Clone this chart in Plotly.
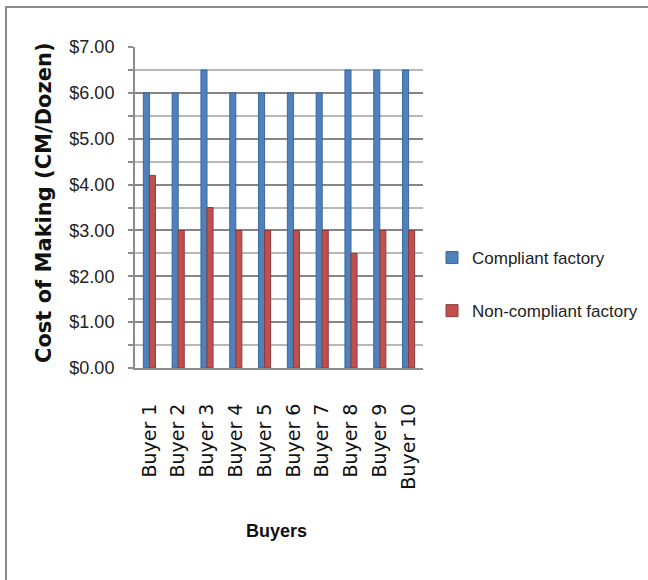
import plotly.graph_objects as go

buyers = ["Buyer 1", "Buyer 2", "Buyer 3", "Buyer 4", "Buyer 5",
          "Buyer 6", "Buyer 7", "Buyer 8", "Buyer 9", "Buyer 10"]
compliant = [6.0, 6.0, 6.5, 6.0, 6.0, 6.0, 6.0, 6.5, 6.5, 6.5]
non_compliant = [4.2, 3.0, 3.5, 3.0, 3.0, 3.0, 3.0, 2.5, 3.0, 3.0]
y_ticks = [0, 1, 2, 3, 4, 5, 6, 7]
y_tick_text = ["$0.00", "$1.00", "$2.00", "$3.00", "$4.00", "$5.00", "$6.00", "$7.00"]

SANS = "Liberation Sans, Arial, sans-serif"

W, H = 648, 580
L, R, T, B = 135, 225, 47, 212
pw, ph = W - L - R, H - T - B


def px(x):
    return (x - L) / pw


def py(y):
    return (H - B - y) / ph


fig = go.Figure()
fig.add_trace(go.Bar(
    x=buyers, y=compliant, name="Compliant factory",
    legendgroup="a",
    marker=dict(color="#4f81bd", line=dict(color="#3a679c", width=1)),
))
fig.add_trace(go.Bar(
    x=buyers, y=non_compliant, name="Non-compliant factory",
    legendgroup="b",
    marker=dict(color="#c0504d", line=dict(color="#8e3a38", width=1)),
))

fig.update_layout(
    width=W, height=H,
    margin=dict(l=L, r=R, t=T, b=B, autoexpand=False),
    paper_bgcolor="white", plot_bgcolor="white",
    barmode="group", bargap=0.58, bargroupgap=0.0,
    showlegend=True,
    legend=dict(
        x=px(432), y=py(240), xanchor="left", yanchor="top",
        font=dict(family=SANS, size=17, color="#222"),
        traceorder="grouped", tracegroupgap=28,
        bgcolor="rgba(0,0,0,0)",
    ),
    xaxis=dict(
        tickangle=-90,
        tickfont=dict(family="DejaVu Sans, Arial, sans-serif", size=19, color="#111"),
        showline=True, linecolor="#8c8c8c", linewidth=2,
        ticks="", ticklabelstandoff=26,
        showgrid=False,
    ),
    yaxis=dict(
        range=[0, 7],
        tickvals=y_ticks, ticktext=y_tick_text,
        tickfont=dict(family=SANS, size=18, color="#222"),
        ticklabelstandoff=10,
        showline=True, linecolor="#8c8c8c", linewidth=2,
        ticks="outside", ticklen=5, tickcolor="#8c8c8c", tickwidth=2,
        showgrid=True, gridcolor="#858585", gridwidth=2,
        zeroline=False,
        minor=dict(dtick=0.5, showgrid=True, gridcolor="#b8b8b8", gridwidth=2,
                   ticks="outside", ticklen=5, tickcolor="#8c8c8c", tickwidth=2),
    ),
    annotations=[
        dict(text="<b>Cost of Making (CM/Dozen)</b>", textangle=-90,
             xref="paper", yref="paper", x=px(44), y=py(203),
             xanchor="center", yanchor="middle", showarrow=False,
             font=dict(family="DejaVu Sans, Arial, sans-serif", size=21, color="#111")),
        dict(text="<b>Buyers</b>",
             xref="paper", yref="paper", x=px(276), y=py(531),
             xanchor="center", yanchor="middle", showarrow=False,
             font=dict(family=SANS, size=18, color="#111")),
    ],
    shapes=[
        dict(type="rect", xref="paper", yref="paper",
             x0=px(6), x1=px(660), y0=py(600), y1=py(7),
             line=dict(color="#8c8c8c", width=2), layer="below"),
    ],
)

fig.write_html("out.html")
